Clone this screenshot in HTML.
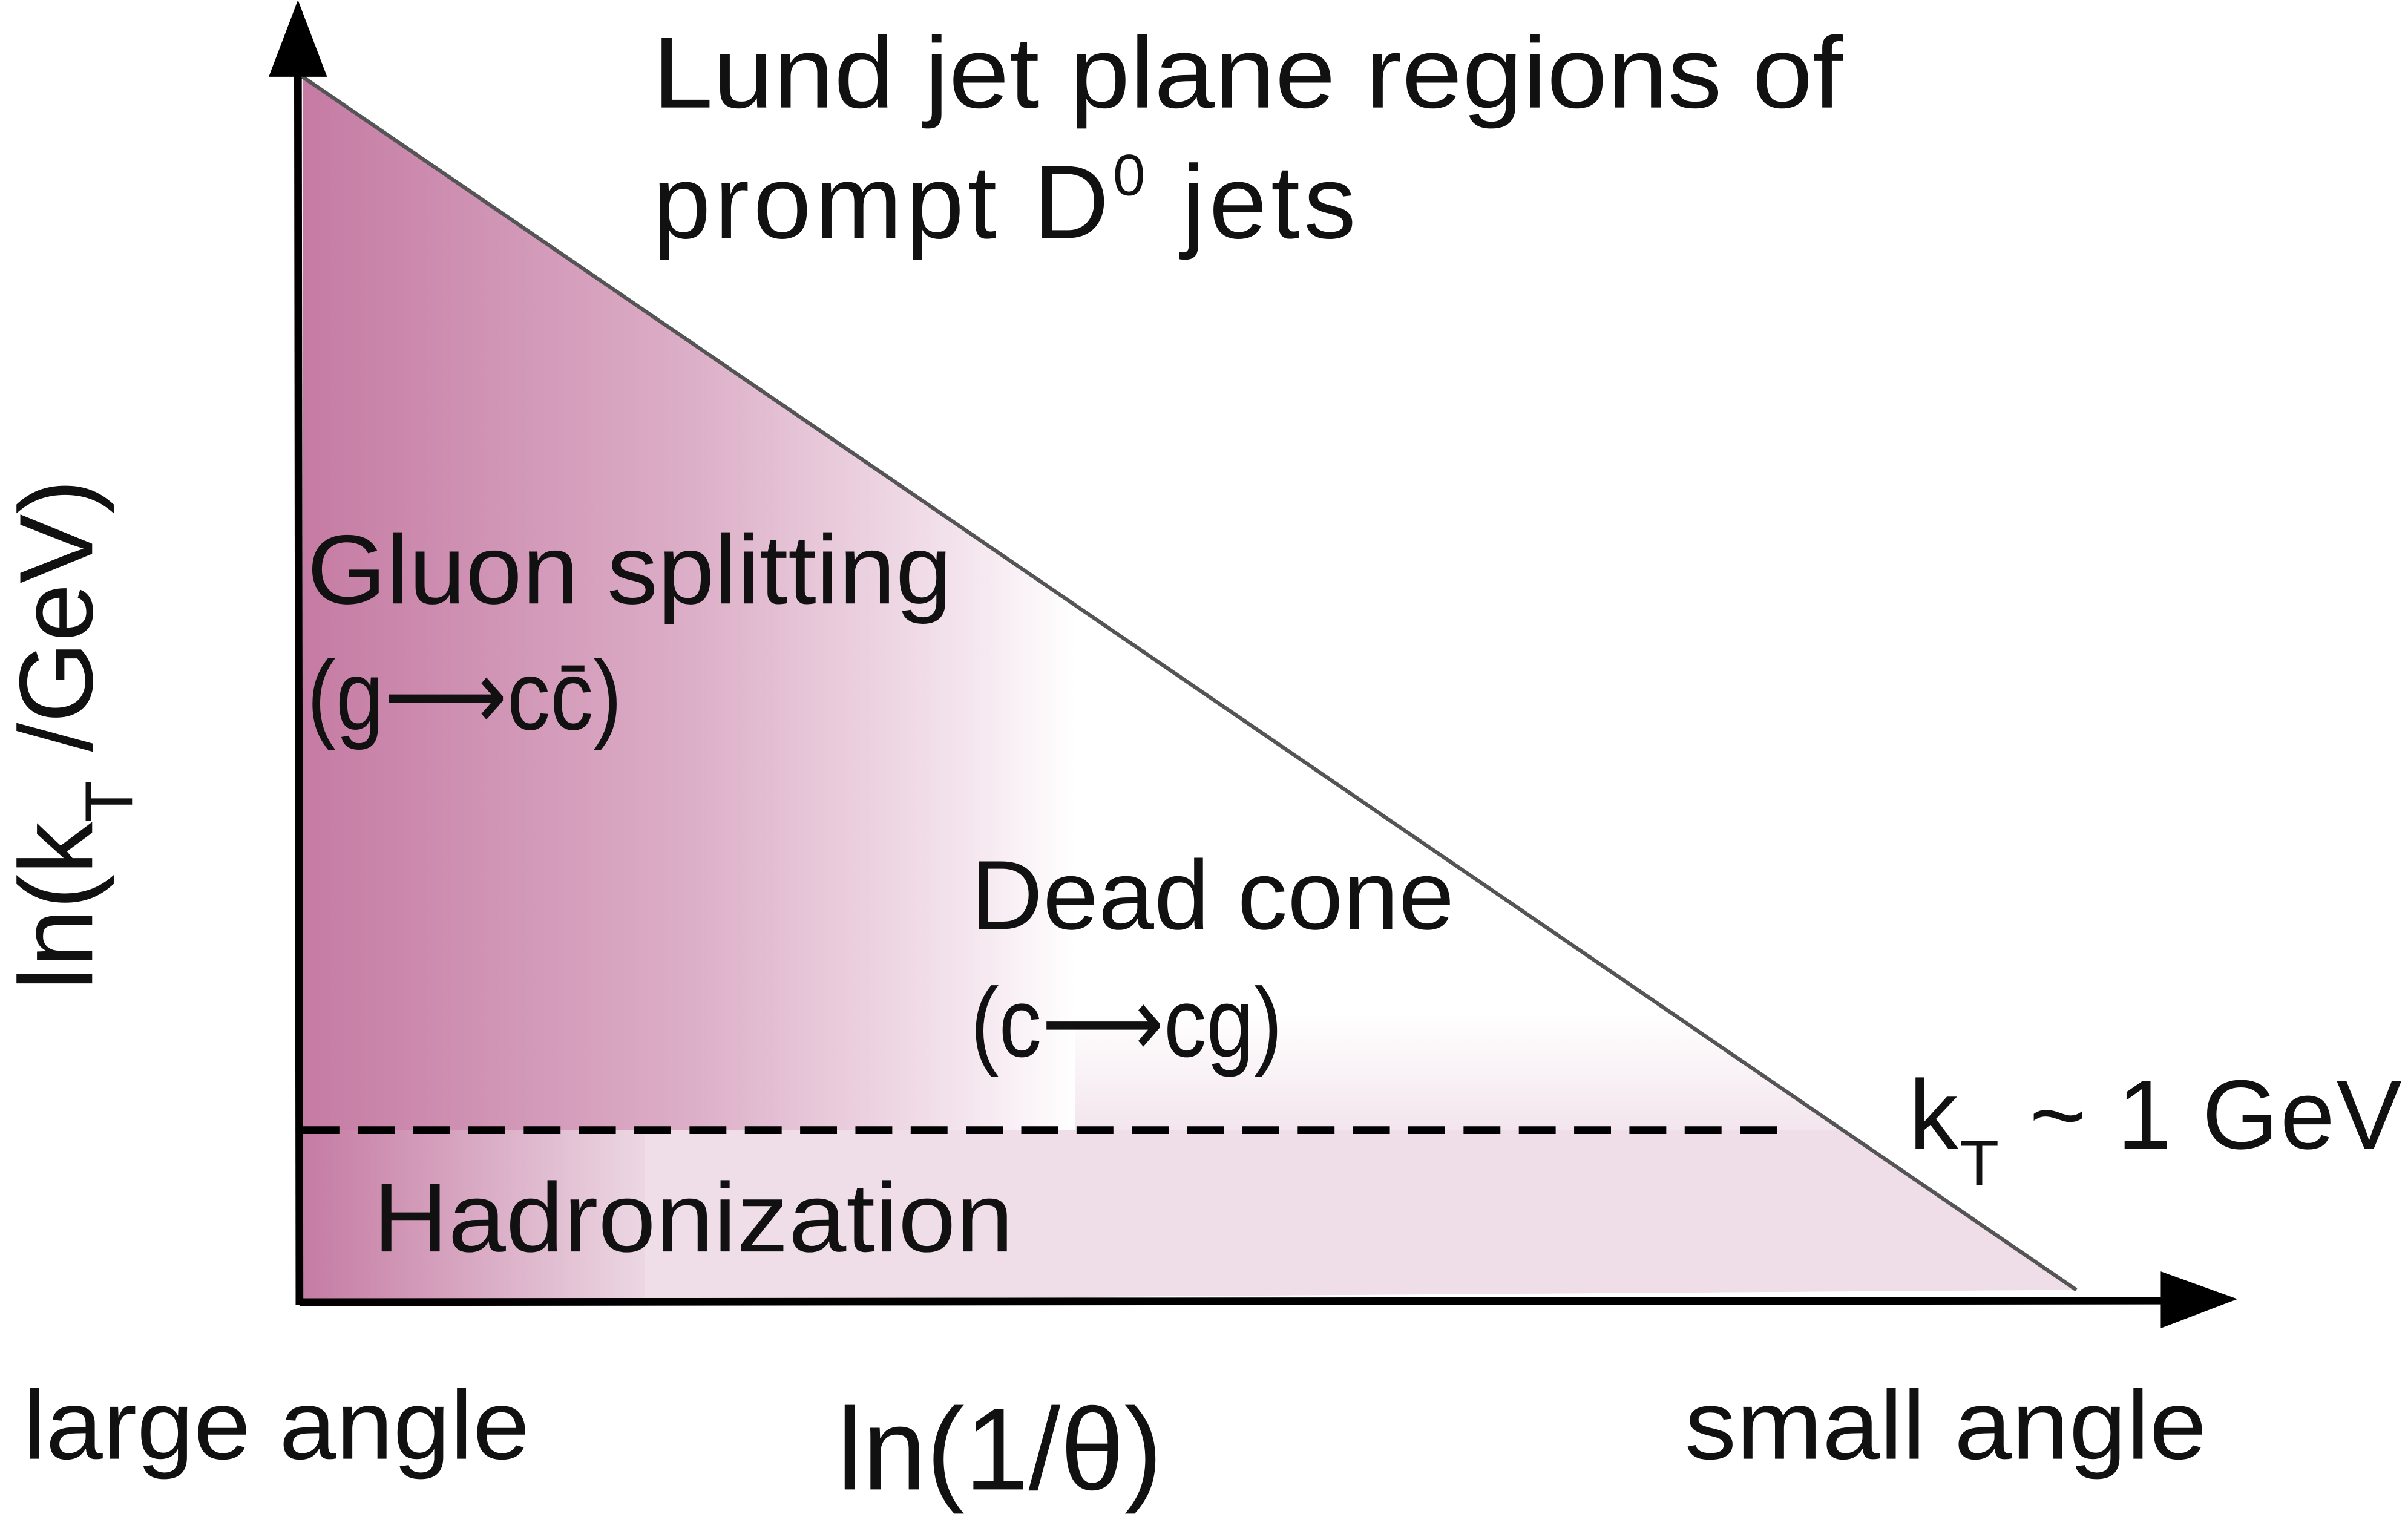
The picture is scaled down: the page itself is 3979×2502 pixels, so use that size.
<!DOCTYPE html>
<html><head><meta charset="utf-8"><style>
html,body{margin:0;padding:0;background:#fff;}
svg{display:block;}
text{font-family:"Liberation Sans",Arial,sans-serif;fill:#111;}
</style></head><body>
<svg width="3979" height="2502" viewBox="0 0 1568 986" preserveAspectRatio="none" xmlns="http://www.w3.org/2000/svg">
<defs>
<linearGradient id="g1" x1="197" y1="0" x2="700" y2="0" gradientUnits="userSpaceOnUse">
<stop offset="0" stop-color="#c57ba3"/><stop offset="0.5" stop-color="#dcaec7"/><stop offset="0.85" stop-color="#f3e3ec"/><stop offset="1" stop-color="#ffffff"/></linearGradient>
<linearGradient id="g2" x1="197" y1="0" x2="420" y2="0" gradientUnits="userSpaceOnUse">
<stop offset="0" stop-color="#c57ba3"/><stop offset="1" stop-color="#ecd7e3"/></linearGradient>
<linearGradient id="g3" x1="0" y1="660" x2="0" y2="760" gradientUnits="userSpaceOnUse">
<stop offset="0" stop-color="#ffffff"/><stop offset="1" stop-color="#efdde7"/></linearGradient>
<clipPath id="tri"><polygon points="197,50 1352,840 197,848"/></clipPath>
</defs>
<polygon points="197,50 1352,840 197,848" fill="url(#g1)"/>
<g clip-path="url(#tri)">
<rect x="700" y="660" width="700" height="190" fill="url(#g3)"/>
<rect x="420" y="736" width="980" height="115" fill="#efdde7"/>
<rect x="197" y="736" width="223" height="115" fill="url(#g2)"/>
</g>
<line x1="197" y1="50" x2="1352" y2="840" stroke="#555" stroke-width="2.5"/>
<line x1="197" y1="736" x2="1160" y2="736" stroke="#000" stroke-width="5" stroke-dasharray="24,12"/>
<line x1="195" y1="850" x2="194" y2="40" stroke="#000" stroke-width="5"/>
<polygon points="194,0 175,50 213,50" fill="#000"/>
<line x1="195" y1="848" x2="1415" y2="847" stroke="#000" stroke-width="5"/>
<polygon points="1457,846 1407,828 1407,865" fill="#000"/>
<text x="425" y="70" font-size="66" textLength="775" lengthAdjust="spacingAndGlyphs">Lund jet plane regions of</text>
<text x="425" y="155" font-size="68" letter-spacing="2.5">prompt D<tspan font-size="38" dy="-28">0</tspan><tspan dy="28"> jets</tspan></text>
<text x="200" y="393" font-size="64" textLength="420" lengthAdjust="spacingAndGlyphs">Gluon splitting</text>
<text x="200" y="475" font-size="64" textLength="205" lengthAdjust="spacingAndGlyphs">(g⟶cc̄)</text>
<text x="632" y="605" font-size="64" textLength="315" lengthAdjust="spacingAndGlyphs">Dead cone</text>
<text x="632" y="688" font-size="64" textLength="203" lengthAdjust="spacingAndGlyphs">(c⟶cg)</text>
<text x="1243" y="748" font-size="64" letter-spacing="1">k<tspan font-size="42" dy="24">T</tspan><tspan dy="-24"> ~ 1 GeV</tspan></text>
<text x="243" y="815" font-size="64" textLength="417" lengthAdjust="spacingAndGlyphs">Hadronization</text>
<text x="15" y="950" font-size="64" textLength="330" lengthAdjust="spacingAndGlyphs">large angle</text>
<text x="545" y="970" font-size="76" textLength="212" lengthAdjust="spacingAndGlyphs">ln(1/θ)</text>
<text x="1097" y="950" font-size="64" textLength="340" lengthAdjust="spacingAndGlyphs">small angle</text>
<text transform="translate(60,645) rotate(-90)" font-size="68">ln(k<tspan font-size="44" dy="26">T</tspan><tspan dy="-26"> /GeV)</tspan></text>
</svg>
</body></html>
